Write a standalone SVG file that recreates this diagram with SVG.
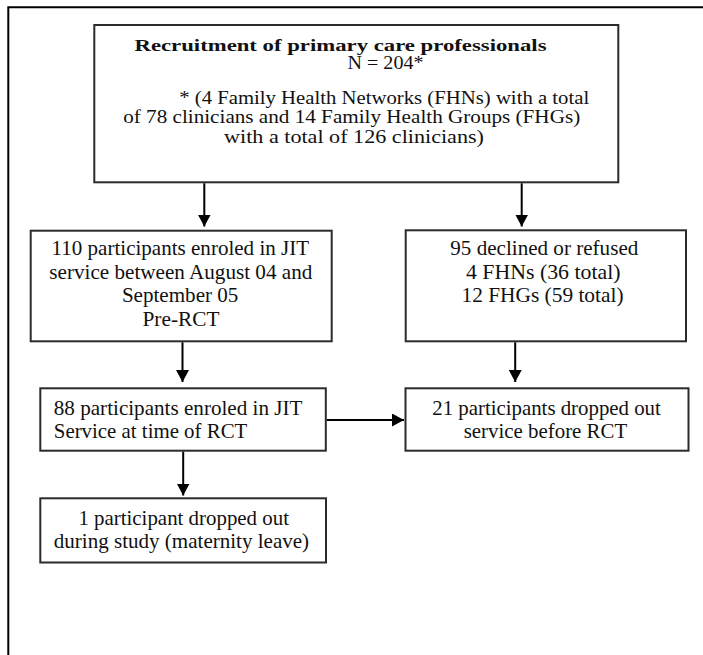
<svg xmlns="http://www.w3.org/2000/svg" width="703" height="655" viewBox="0 0 703 655">
  <style>
    .box { fill: #ffffff; stroke: #2b2b2b; stroke-width: 2; }
    .t { font-family: "Liberation Serif", "Times New Roman", serif; fill: #111111; }
    .s18 { font-size: 18px; }
    .s17 { font-size: 17px; }
    .s21 { font-size: 21px; }
    .b { font-weight: bold; }
    .conn { stroke: #000000; stroke-width: 2; fill: none; }
    .frame { stroke: #000000; stroke-width: 2; fill: none; }
  </style>
  <defs>
    <marker id="arrow" viewBox="0 0 12 13" refX="12" refY="6.5" markerWidth="12" markerHeight="13" markerUnits="userSpaceOnUse" orient="auto">
      <path d="M0,0 L12,6.5 L0,13 Z" fill="#000000"/>
    </marker>
  </defs>
  <rect x="0" y="0" width="703" height="655" fill="#ffffff"/>
  <path class="frame" d="M8.3,655 V7.3 H703"/>

  <g id="recruitment">
    <rect class="box" x="94.3" y="25" width="524" height="157.3"/>
    <text class="t s17 b" x="134.5" y="50.5" textLength="412" lengthAdjust="spacingAndGlyphs">Recruitment of primary care professionals</text>
    <text class="t s18" x="347.5" y="69" textLength="76" lengthAdjust="spacingAndGlyphs">N = 204*</text>
    <text class="t s18" x="179.2" y="104.3" textLength="410" lengthAdjust="spacingAndGlyphs">* (4 Family Health Networks (FHNs) with a total</text>
    <text class="t s18" x="123.2" y="123.3" textLength="457" lengthAdjust="spacingAndGlyphs">of 78 clinicians and 14 Family Health Groups (FHGs)</text>
    <text class="t s18" x="224" y="142.5" textLength="260" lengthAdjust="spacingAndGlyphs">with a total of 126 clinicians)</text>
  </g>

  <g id="enrolled">
    <rect class="box" x="30.7" y="230.7" width="301" height="110.6"/>
    <text class="t s21" x="51.5" y="255" textLength="257.6" lengthAdjust="spacingAndGlyphs">110 participants enroled in JIT</text>
    <text class="t s21" x="49.3" y="278.5" textLength="263" lengthAdjust="spacingAndGlyphs">service between August 04 and</text>
    <text class="t s21" x="121.9" y="302" textLength="116.5" lengthAdjust="spacingAndGlyphs">September 05</text>
    <text class="t s21" x="142.5" y="325.5" textLength="77" lengthAdjust="spacingAndGlyphs">Pre-RCT</text>
  </g>

  <g id="declined">
    <rect class="box" x="405.7" y="230.3" width="280.3" height="111"/>
    <text class="t s21" x="450.3" y="255" textLength="188" lengthAdjust="spacingAndGlyphs">95 declined or refused</text>
    <text class="t s21" x="466" y="278.5" textLength="154.5" lengthAdjust="spacingAndGlyphs">4 FHNs (36 total)</text>
    <text class="t s21" x="461.5" y="302" textLength="162" lengthAdjust="spacingAndGlyphs">12 FHGs (59 total)</text>
  </g>

  <g id="atRCT">
    <rect class="box" x="40.3" y="388.3" width="285.5" height="62.4"/>
    <text class="t s21" x="53.8" y="414.5" textLength="248.6" lengthAdjust="spacingAndGlyphs">88 participants enroled in JIT</text>
    <text class="t s21" x="53.8" y="438" textLength="193.5" lengthAdjust="spacingAndGlyphs">Service at time of RCT</text>
  </g>

  <g id="droppedBefore">
    <rect class="box" x="405.5" y="388.3" width="283" height="62.4"/>
    <text class="t s21" x="432.3" y="414.5" textLength="228.5" lengthAdjust="spacingAndGlyphs">21 participants dropped out</text>
    <text class="t s21" x="463.7" y="438" textLength="163.5" lengthAdjust="spacingAndGlyphs">service before RCT</text>
  </g>

  <g id="droppedDuring">
    <rect class="box" x="40.3" y="498.3" width="285.7" height="64.2"/>
    <text class="t s21" x="78.4" y="524.5" textLength="210.6" lengthAdjust="spacingAndGlyphs">1 participant dropped out</text>
    <text class="t s21" x="53.8" y="548" textLength="255.3" lengthAdjust="spacingAndGlyphs">during study (maternity leave)</text>
  </g>

  <g id="connectors">
    <line class="conn" x1="204.3" y1="183.3" x2="204.3" y2="226.5" marker-end="url(#arrow)"/>
    <line class="conn" x1="521.7" y1="183.3" x2="521.7" y2="226.5" marker-end="url(#arrow)"/>
    <line class="conn" x1="182.5" y1="342.3" x2="182.5" y2="382" marker-end="url(#arrow)"/>
    <line class="conn" x1="515.2" y1="342.3" x2="515.2" y2="382" marker-end="url(#arrow)"/>
    <line class="conn" x1="326.8" y1="420" x2="404" y2="420" marker-end="url(#arrow)"/>
    <line class="conn" x1="183.2" y1="451.7" x2="183.2" y2="495.5" marker-end="url(#arrow)"/>
  </g>
</svg>
